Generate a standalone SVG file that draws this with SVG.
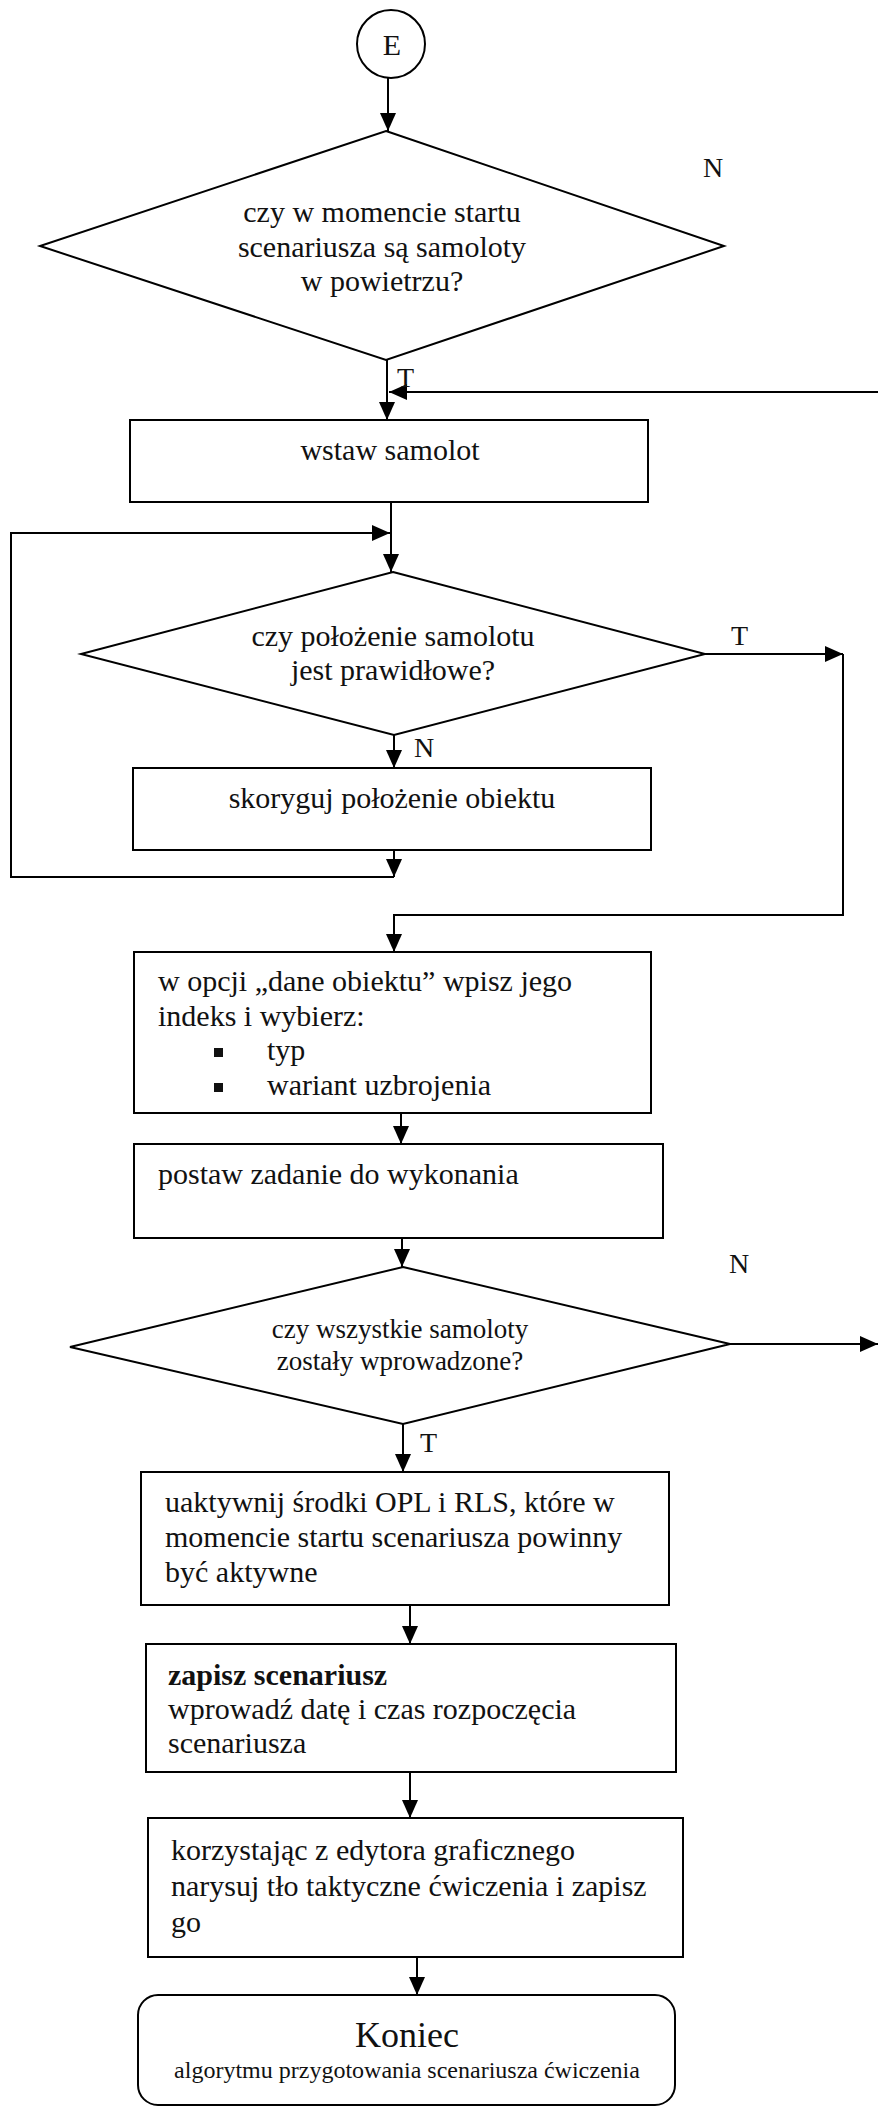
<svg xmlns="http://www.w3.org/2000/svg" width="878" height="2107" viewBox="0 0 878 2107">
  <defs>
    <marker id="arrow" viewBox="0 0 18 16" refX="18" refY="8" markerWidth="18" markerHeight="16" markerUnits="userSpaceOnUse" orient="auto">
      <path d="M0,0 L18,8 L0,16 Z" fill="#000"/>
    </marker>
    <style>
      .shape { fill: #fff; stroke: #000; stroke-width: 2; }
      .line { fill: none; stroke: #000; stroke-width: 2; }
      .arr { fill: none; stroke: #000; stroke-width: 2; marker-end: url(#arrow); }
      text { font-family: "Liberation Serif", "Times New Roman", serif; fill: #111; }
      .t30 { font-size: 30px; }
      .t27 { font-size: 27px; }
      .lbl { font-size: 28px; }
      .mid { text-anchor: middle; }
      .b { font-weight: bold; }
    </style>
  </defs>
  <rect width="878" height="2107" fill="#fff"/>

  <!-- connectors -->
  <g id="connectors">
    <path class="arr" d="M388,78 L388,131"/>
    <path class="arr" d="M387,360 L387,420"/>
    <path class="arr" d="M878,392 L389,392"/>
    <path class="arr" d="M391,502 L391,572"/>
    <path class="arr" d="M394,850 L394,877"/>
    <path class="arr" d="M394,877 L11,877 L11,533 L390,533"/>
    <path class="arr" d="M394,735 L394,768"/>
    <path class="arr" d="M705,654 L843,654"/>
    <path class="arr" d="M843,654 L843,915 L394,915 L394,952"/>
    <path class="arr" d="M401,1113 L401,1144"/>
    <path class="arr" d="M402,1238 L402,1267"/>
    <path class="arr" d="M730,1344 L878,1344"/>
    <path class="arr" d="M403,1424 L403,1472"/>
    <path class="arr" d="M410,1605 L410,1644"/>
    <path class="arr" d="M410,1772 L410,1818"/>
    <path class="arr" d="M417,1957 L417,1995"/>
    <text class="lbl" x="397" y="387">T</text>
    <text class="lbl" x="703" y="177">N</text>
    <text class="lbl" x="731" y="645">T</text>
    <text class="lbl" x="414" y="757">N</text>
    <text class="lbl" x="729" y="1273">N</text>
    <text class="lbl" x="420" y="1452">T</text>
  </g>

  <!-- start connector -->
  <g id="start">
    <circle class="shape" cx="391" cy="44" r="34"/>
    <text class="t30 mid" x="392" y="55">E</text>
  </g>

  <!-- decision: aircraft airborne at scenario start -->
  <g id="dec-airborne">
    <polygon class="shape" points="386,131 724,246 386,360 40,246"/>
    <text class="t30 mid" x="382" y="222">czy w momencie startu</text>
    <text class="t30 mid" x="382" y="257">scenariusza są samoloty</text>
    <text class="t30 mid" x="382" y="291">w powietrzu?</text>
  </g>

  <g id="insert-aircraft">
    <rect class="shape" x="130" y="420" width="518" height="82"/>
    <text class="t30 mid" x="390" y="460">wstaw samolot</text>
  </g>

  <!-- decision: position valid -->
  <g id="dec-position">
    <polygon class="shape" points="393,572 705,654 394,735 81,654"/>
    <text class="t30 mid" x="393" y="646">czy położenie samolotu</text>
    <text class="t30 mid" x="393" y="680">jest prawidłowe?</text>
  </g>

  <g id="fix-position">
    <rect class="shape" x="133" y="768" width="518" height="82"/>
    <text class="t30 mid" x="392" y="808">skoryguj położenie obiektu</text>
  </g>

  <g id="object-data">
    <rect class="shape" x="134" y="952" width="517" height="161"/>
    <text class="t30" x="158" y="991">w opcji „dane obiektu” wpisz jego</text>
    <text class="t30" x="158" y="1026">indeks i wybierz:</text>
    <rect x="214" y="1048" width="9" height="9" fill="#111"/>
    <text class="t30" x="267" y="1060">typ</text>
    <rect x="214" y="1083" width="9" height="9" fill="#111"/>
    <text class="t30" x="267" y="1095">wariant uzbrojenia</text>
  </g>

  <g id="set-task">
    <rect class="shape" x="134" y="1144" width="529" height="94"/>
    <text class="t30" x="158" y="1184">postaw zadanie do wykonania</text>
  </g>

  <!-- decision: all aircraft entered -->
  <g id="dec-all">
    <polygon class="shape" points="403,1267 730,1344 403,1424 70,1347"/>
    <text class="t27 mid" x="400" y="1338">czy wszystkie samoloty</text>
    <text class="t27 mid" x="400" y="1370">zostały wprowadzone?</text>
  </g>

  <g id="activate">
    <rect class="shape" x="141" y="1472" width="528" height="133"/>
    <text class="t30" x="165" y="1512">uaktywnij środki OPL i RLS, które w</text>
    <text class="t30" x="165" y="1547">momencie startu scenariusza powinny</text>
    <text class="t30" x="165" y="1582">być aktywne</text>
  </g>

  <g id="save-scenario">
    <rect class="shape" x="146" y="1644" width="530" height="128"/>
    <text class="t30 b" x="168" y="1685">zapisz scenariusz</text>
    <text class="t30" x="168" y="1719">wprowadź datę i czas rozpoczęcia</text>
    <text class="t30" x="168" y="1753">scenariusza</text>
  </g>

  <g id="draw-background">
    <rect class="shape" x="148" y="1818" width="535" height="139"/>
    <text class="t30" x="171" y="1860">korzystając z edytora graficznego</text>
    <text class="t30" x="171" y="1896">narysuj tło taktyczne ćwiczenia i zapisz</text>
    <text class="t30" x="171" y="1932">go</text>
  </g>

  <g id="end">
    <rect class="shape" x="138" y="1995" width="537" height="110" rx="20" ry="20"/>
    <text class="mid" x="407" y="2047" font-size="36">Koniec</text>
    <text class="mid" x="407" y="2078" font-size="24">algorytmu przygotowania scenariusza ćwiczenia</text>
  </g>
</svg>
